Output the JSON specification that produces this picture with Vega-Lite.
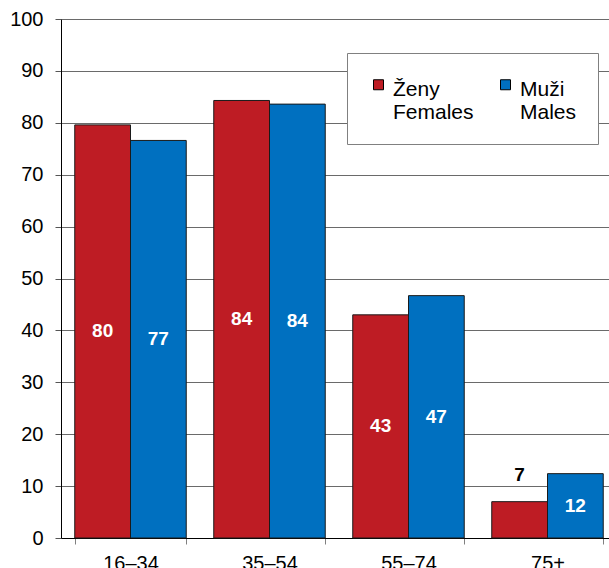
{
  "$schema": "https://vega.github.io/schema/vega-lite/v6.json",
  "width": 556,
  "height": 519,
  "autosize": {"type": "none"},
  "padding": {"left": 61, "top": 19, "right": -8, "bottom": 30},
  "background": "white",
  "config": {"view": {"stroke": null}, "font": "Liberation Sans"},
  "data": {
    "values": [
      {"age": "16–34", "sex": "Ženy|Females", "value": 79.6},
      {"age": "16–34", "sex": "Muži|Males", "value": 76.6},
      {"age": "35–54", "sex": "Ženy|Females", "value": 84.3},
      {"age": "35–54", "sex": "Muži|Males", "value": 83.6},
      {"age": "55–74", "sex": "Ženy|Females", "value": 43.0},
      {"age": "55–74", "sex": "Muži|Males", "value": 46.7},
      {"age": "75+", "sex": "Ženy|Females", "value": 7.0},
      {"age": "75+", "sex": "Muži|Males", "value": 12.4}
    ]
  },
  "encoding": {
    "x": {
      "field": "age",
      "type": "nominal",
      "sort": ["16–34", "35–54", "55–74", "75+"],
      "scale": {"paddingInner": 0.198, "paddingOuter": 0.099},
      "axis": {
        "title": null,
        "labelAngle": 0,
        "labelFontSize": 20,
        "labelColor": "black",
        "labelPadding": 9,
        "domainColor": "black",
        "domainWidth": 1,
        "tickColor": "#808080",
        "tickSize": 6,
        "tickBand": "extent",
        "grid": false
      }
    },
    "xOffset": {
      "field": "sex",
      "type": "nominal",
      "sort": ["Ženy|Females", "Muži|Males"],
      "scale": {"paddingInner": 0, "paddingOuter": 0}
    }
  },
  "layer": [
    {
      "mark": {"type": "bar", "stroke": "#1a1a1a", "strokeWidth": 1},
      "encoding": {
        "y": {
          "field": "value",
          "type": "quantitative",
          "scale": {"domain": [0, 100], "nice": false},
          "axis": {
            "title": null,
            "values": [0, 10, 20, 30, 40, 50, 60, 70, 80, 90, 100],
            "labelFontSize": 20,
            "labelColor": "black",
            "labelPadding": 12,
            "tickSize": 6,
            "tickColor": "#555555",
            "domainColor": "black",
            "gridColor": "#6a6a6a",
            "gridWidth": 1
          }
        },
        "color": {
          "field": "sex",
          "type": "nominal",
          "sort": ["Ženy|Females", "Muži|Males"],
          "scale": {"domain": ["Ženy|Females", "Muži|Males"], "range": ["#BE1C24", "#0070C0"]},
          "legend": {
            "orient": "none",
            "legendX": 286,
            "legendY": 34,
            "direction": "horizontal",
            "columns": 2,
            "title": null,
            "symbolType": "square",
            "symbolSize": 100,
            "symbolStrokeColor": "black",
            "symbolStrokeWidth": 1,
            "symbolOpacity": 1,
            "labelFontSize": 21,
            "labelColor": "black",
            "labelExpr": "split(datum.label, '|')",
            "labelBaseline": "top",
            "labelOffset": 4,
            "labelLimit": 0,
            "columnPadding": 21,
            "padding": 21,
            "strokeColor": "#808080",
            "fillColor": "white",
            "encode": {"labels": {"update": {"dy": {"value": -6}}}}
          }
        }
      }
    },
    {
      "transform": [{"filter": "datum.value >= 10"}],
      "mark": {"type": "text", "color": "white", "fontWeight": "bold", "fontSize": 19, "baseline": "middle"},
      "encoding": {
        "y": {"field": "value", "type": "quantitative", "scale": {"domain": [0, 200], "nice": false}, "axis": null},
        "text": {"field": "value", "type": "quantitative", "format": ".0f"}
      }
    },
    {
      "transform": [{"filter": "datum.value < 10"}],
      "mark": {"type": "text", "color": "black", "fontWeight": "bold", "fontSize": 19, "baseline": "bottom", "dy": -17},
      "encoding": {
        "y": {"field": "value", "type": "quantitative", "scale": {"domain": [0, 100], "nice": false}, "axis": null},
        "text": {"field": "value", "type": "quantitative", "format": ".0f"}
      }
    }
  ],
  "resolve": {"scale": {"y": "independent"}}
}
